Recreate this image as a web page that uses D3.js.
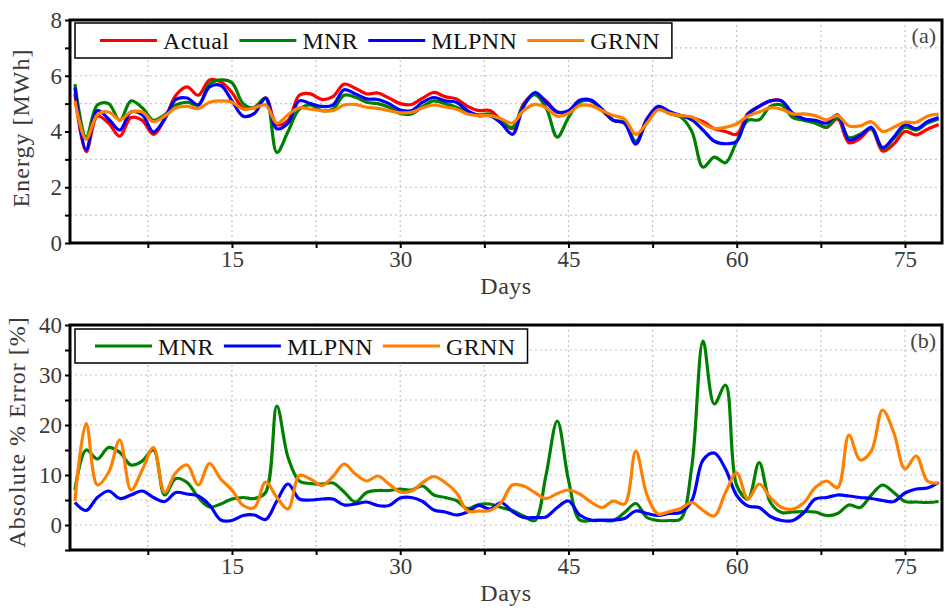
<!DOCTYPE html>
<html>
<head>
<meta charset="utf-8">
<script src="https://cdn.jsdelivr.net/npm/d3@7"></script>
<style>
  body { margin: 0; background: #fff; }
  svg { display: block; }
  text { font-family: "Liberation Serif", "Times New Roman", serif; }
</style>
</head>
<body>
<svg id="chart" width="945" height="615"></svg>
<script>

// Data (one value per day)

var days = d3.range(1, 79);

var actual = [5.35, 3.28, 4.55, 4.3, 3.83, 4.5, 4.4, 3.9, 4.45, 5.3,
  5.6, 5.3, 5.85, 5.78, 5.4, 4.85, 4.87, 5.2, 4.25, 4.4,
  5.3, 5.35, 5.15, 5.25, 5.7, 5.55, 5.35, 5.38, 5.2, 5.0,
  4.97, 5.2, 5.4, 5.25, 5.17, 4.9, 4.75, 4.75, 4.4, 4.1,
  5.0, 5.35, 5.1, 4.7, 4.72, 5.1, 5.1, 4.75, 4.4, 4.3,
  3.6, 4.45, 4.82, 4.65, 4.57, 4.5, 4.35, 4.1, 4.0, 3.9,
  4.65, 4.9, 5.1, 5.1, 4.6, 4.45, 4.35, 4.15, 4.45, 3.6,
  3.75, 4.1, 3.3, 3.55, 4.0, 3.88, 4.08, 4.25];

var mnr = [5.7, 3.8, 4.95, 5.0, 4.4, 5.1, 4.85, 4.4, 4.6, 4.95,
  5.05, 4.95, 5.7, 5.85, 5.75, 5.0, 4.85, 5.2, 3.25, 4.0,
  4.8, 4.95, 4.75, 4.8, 5.3, 5.23, 5.05, 5.0, 4.87, 4.65,
  4.63, 4.9, 5.1, 5.0, 4.87, 4.7, 4.6, 4.63, 4.35, 4.15,
  4.95, 5.32, 4.85, 3.8, 4.5, 5.05, 5.1, 4.78, 4.4, 4.33,
  3.65, 4.35, 4.85, 4.65, 4.52, 4.0, 2.72, 3.08, 2.88, 3.65,
  4.4, 4.42, 4.9, 4.95, 4.5, 4.4, 4.3, 4.15, 4.5, 3.78,
  3.9, 4.1, 3.38, 3.75, 4.15, 4.05, 4.3, 4.45];

var mlpnn = [5.58, 3.35, 4.75, 4.45, 4.05, 4.7, 4.6, 3.98, 4.45, 5.15,
  5.2, 4.95, 5.6, 5.65, 5.1, 4.55, 4.65, 5.2, 4.1, 4.3,
  5.1, 5.0, 4.9, 4.95, 5.5, 5.35, 5.17, 5.15, 5.0, 4.77,
  4.75, 5.05, 5.22, 5.1, 5.05, 4.75, 4.57, 4.57, 4.3, 3.9,
  4.9, 5.4, 5.05, 4.7, 4.75, 5.12, 5.13, 4.8, 4.4, 4.3,
  3.55, 4.45, 4.9, 4.72, 4.57, 4.42, 4.05, 3.65, 3.56, 3.65,
  4.6, 4.9, 5.1, 5.1, 4.65, 4.45, 4.4, 4.3, 4.6, 3.7,
  3.85, 4.15, 3.42, 3.8, 4.25, 4.1, 4.35, 4.5];

var grnn = [5.1, 3.72, 4.6, 4.7, 4.42, 4.7, 4.7, 4.35, 4.55, 4.85,
  4.9, 4.82, 5.05, 5.1, 5.05, 4.8, 4.85, 4.95, 4.3, 4.6,
  4.85, 4.8, 4.75, 4.75, 4.95, 4.97, 4.87, 4.83, 4.75, 4.67,
  4.69, 4.85, 4.95, 4.88, 4.8, 4.63, 4.57, 4.57, 4.45, 4.3,
  4.75, 4.97, 4.85, 4.55, 4.65, 4.93, 4.93, 4.75, 4.57, 4.45,
  3.9, 4.3, 4.78, 4.65, 4.57, 4.52, 4.28, 4.1, 4.15, 4.28,
  4.55, 4.7, 4.85, 4.8, 4.63, 4.63, 4.57, 4.42, 4.57, 4.2,
  4.2, 4.35, 4.0, 4.15, 4.33, 4.33, 4.55, 4.62];

var errMnr = [7.0, 15.0, 13.2, 15.5, 14.5, 12.0, 12.8, 15.0, 6.0, 9.3,
  8.5, 5.5, 3.6, 4.2, 5.2, 5.5, 5.3, 6.5, 23.8, 13.5,
  8.8, 8.3, 8.2, 8.4, 6.6, 4.6, 6.5, 6.9, 6.9, 7.2,
  7.0, 7.8, 6.0, 5.5, 4.9, 3.3, 4.1, 4.2, 3.5, 2.9,
  1.8, 0.9, 10.0, 20.8, 9.0, 1.0, 0.9, 0.9, 0.9, 2.5,
  4.3, 1.5, 0.9, 0.9, 1.2, 11.8, 36.8, 24.2, 28.0, 7.9,
  5.2, 12.5, 4.5, 2.5, 2.6, 2.7, 2.6, 1.9, 2.3, 4.0,
  3.5, 6.0, 8.0, 6.5, 4.7, 4.6, 4.5, 4.7];

var errMlpnn = [4.5, 2.9, 5.5, 6.8, 5.3, 6.0, 6.8, 5.5, 4.7, 6.5,
  6.2, 5.8, 4.0, 1.0, 0.9, 1.9, 2.0, 1.1, 4.8, 8.2,
  5.2, 5.0, 5.2, 5.2, 4.0, 4.2, 4.6, 3.9, 3.9, 5.4,
  5.5, 4.7, 3.0, 2.6, 2.0, 2.6, 3.9, 3.2, 4.5, 2.7,
  1.5, 1.5, 1.6, 3.5, 4.8, 2.0, 1.0, 1.0, 1.0, 1.3,
  2.8, 2.3, 1.9, 2.3, 2.5, 4.9, 13.0, 14.4, 11.2, 5.9,
  3.8, 3.5, 1.7, 0.9, 0.9, 2.5, 5.2, 5.5, 6.0, 5.8,
  5.5, 5.3, 4.9, 4.7, 6.4, 7.2, 7.4, 8.5];

var errGrnn = [4.8, 20.3, 8.0, 10.5, 17.0, 7.0, 11.0, 15.5, 6.5, 10.5,
  12.0, 8.0, 12.3, 9.2, 7.0, 3.9, 3.5, 8.6, 5.5, 3.2,
  9.9, 9.2, 7.9, 9.7, 12.2, 10.2, 8.8, 9.8, 8.2, 6.6,
  6.8, 8.5, 9.7, 8.5, 6.5, 2.8, 2.8, 2.9, 4.5, 8.0,
  7.8, 6.5, 5.3, 6.3, 7.0, 6.2, 4.6, 3.5, 4.8, 4.2,
  14.8, 6.0, 2.2, 2.7, 3.3, 4.5, 2.9, 1.8, 6.5, 10.4,
  5.2, 8.2, 5.5, 3.5, 3.2, 4.5, 7.5, 8.8, 7.5, 18.0,
  13.0, 14.8, 23.0, 18.5, 11.2, 13.8, 8.8, 8.4];

var xTicks = d3.range(7.5, 76, 7.5);

var colors = { "Actual": "#ff0000", "MNR": "#008000", "MLPNN": "#0000ff", "GRNN": "#ff8000" };

var svg = d3.select("#chart");

function panel(o) {
  var x = d3.scaleLinear().domain([0.56, 78.3]).range([o.left, o.right]),
      y = d3.scaleLinear().domain(o.yDomain).range([o.bottom, o.top]);

  var g = svg.append("g");

  // dotted grid
  g.selectAll(".vgrid").data(xTicks).enter().append("line")
    .attr("x1", function(d) { return x(d); })
    .attr("x2", function(d) { return x(d); })
    .attr("y1", o.top).attr("y2", o.bottom)
    .style("stroke", "#c4c4c4").style("stroke-width", 1.2)
    .style("stroke-dasharray", "2,3");

  g.selectAll(".hgrid").data(o.yGrid).enter().append("line")
    .attr("x1", o.left).attr("x2", o.right)
    .attr("y1", function(d) { return y(d); })
    .attr("y2", function(d) { return y(d); })
    .style("stroke", "#c4c4c4").style("stroke-width", 1.2)
    .style("stroke-dasharray", "2,3");

  // axes
  var xa = g.append("g")
    .attr("transform", "translate(0," + o.bottom + ")")
    .call(d3.axisBottom(x).tickValues(xTicks).tickSize(5).tickPadding(3)
      .tickFormat(function(d) { return d % 15 === 0 ? d : ""; }));

  var ya = g.append("g")
    .attr("transform", "translate(" + o.left + ",0)")
    .call(d3.axisLeft(y).tickValues(o.yGrid.concat(o.yDomain[1])).tickSize(5).tickPadding(3)
      .tickFormat(function(d) { return d % o.yStep === 0 ? d : ""; }));

  [xa, ya].forEach(function(a) {
    a.select(".domain").remove();
    a.selectAll("line").style("stroke", "#000").style("stroke-width", 2);
    a.selectAll("text").style("font-size", "23px").style("fill", "#3a3a3a")
      .style("font-family", "'Liberation Serif', serif");
  });

  // series
  var line = d3.line()
    .x(function(d, i) { return x(days[i]); })
    .y(function(d) { return y(d); })
    .curve(d3.curveCatmullRom.alpha(0.5));

  g.selectAll(".series").data(o.series).enter().append("path")
    .attr("d", function(s) { return line(s.values); })
    .style("fill", "none")
    .style("stroke", function(s) { return colors[s.name]; })
    .style("stroke-width", 3.2)
    .style("stroke-linejoin", "round");

  // frame
  g.append("rect")
    .attr("x", o.left).attr("y", o.top)
    .attr("width", o.right - o.left).attr("height", o.bottom - o.top)
    .style("fill", "none").style("stroke", "#000").style("stroke-width", 3);

  // axis titles
  g.append("text")
    .attr("transform", "translate(" + o.yLabelX + "," + o.yLabelY + ") rotate(-90)")
    .attr("text-anchor", "middle")
    .style("font-size", "24px").style("fill", "#3a3a3a")
    .style("letter-spacing", "1px")
    .text(o.yLabel);

  g.append("text")
    .attr("x", (o.left + o.right) / 2).attr("y", o.bottom + 51)
    .attr("text-anchor", "middle")
    .style("font-size", "24px").style("fill", "#3a3a3a")
    .style("letter-spacing", "0.5px")
    .text("Days");

  g.append("text")
    .attr("x", o.right - 6).attr("y", o.top + 23)
    .attr("text-anchor", "end")
    .style("font-size", "22px").style("fill", "#444")
    .text(o.tag);

  // legend
  var box = g.append("rect")
    .attr("x", o.left + 5).attr("y", o.legendTop)
    .attr("height", o.legendH)
    .style("fill", "#fff").style("stroke", "#000").style("stroke-width", 1.5);

  var lx = o.left + o.legendPad,
      ly = o.legendTop + o.legendH / 2;
  o.series.forEach(function(s) {
    g.append("line")
      .attr("x1", lx).attr("x2", lx + 57)
      .attr("y1", ly).attr("y2", ly)
      .style("stroke", colors[s.name]).style("stroke-width", 3);
    var t = g.append("text")
      .attr("x", lx + 63).attr("y", ly + 8.5)
      .style("font-size", "24px").style("fill", "#111")
      .style("letter-spacing", "0.4px")
      .text(s.name);
    lx = lx + 63 + t.node().getComputedTextLength() + 10;
  });
  box.attr("width", lx - (o.left + 5) + 2);
}

panel({
  left: 70, right: 942, top: 20, bottom: 243,
  yDomain: [0, 8], yGrid: d3.range(0, 8), yStep: 2,
  yLabel: "Energy [MWh]", yLabelX: 29, yLabelY: 128, tag: "(a)",
  legendTop: 23, legendH: 35, legendPad: 30,
  series: [
    { name: "Actual", values: actual },
    { name: "MNR", values: mnr },
    { name: "MLPNN", values: mlpnn },
    { name: "GRNN", values: grnn }
  ]
});

panel({
  left: 70, right: 942, top: 325, bottom: 550,
  yDomain: [-5, 40], yGrid: d3.range(-5, 40, 5), yStep: 10,
  yLabel: "Absolute % Error [%]", yLabelX: 25, yLabelY: 432, tag: "(b)",
  legendTop: 329, legendH: 34, legendPad: 25,
  series: [
    { name: "MNR", values: errMnr },
    { name: "MLPNN", values: errMlpnn },
    { name: "GRNN", values: errGrnn }
  ]
});

</script>
</body>
</html>
